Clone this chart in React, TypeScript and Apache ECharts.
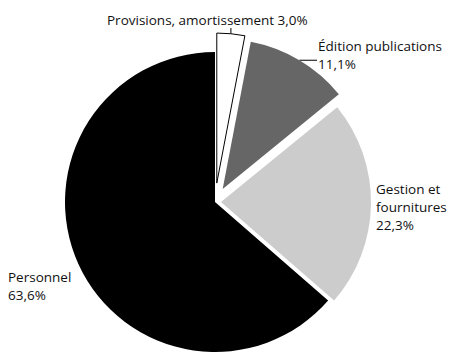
import React, { useEffect, useRef } from "react";
import * as echarts from "echarts";

const categories = ["Provisions, amortissement", "Édition publications", "Gestion et fournitures", "Personnel"];
const labelNames = ["Provisions, amortissement", "Édition publications", "Gestion et\nfournitures", "Personnel"];
const values = [3.0, 11.1, 22.3, 63.6];
const colors = ["#ffffff", "#666666", "#cccccc", "#000000"];
const offsets = [19, 15, 6, 0];
const labelSep = [" ", "\n", "\n", "\n"];

const fmt = (v: number) => v.toFixed(1).replace(".", ",") + "%";

const CX = 215;
const CY = 202;
const R = 150;
// label anchor (left, top of first line)
const labelPos = [
  [107, 11],
  [318, 37],
  [376, 180],
  [8, 268],
];

export default function App() {
  const ref = useRef<HTMLDivElement>(null);
  useEffect(() => {
    const chart = echarts.init(ref.current!, null, { renderer: "svg" });
    const total = values.reduce((a, b) => a + b, 0);
    // mid-angle edge points of each slice (clockwise from top)
    let acc = 0;
    const edge = values.map((v, i) => {
      const mid = ((acc + v / 2) / total) * 2 * Math.PI;
      acc += v;
      const d = R + offsets[i];
      return [CX + d * Math.sin(mid), CY - d * Math.cos(mid)];
    });

    const series = categories.map((_, k) => ({
      type: "pie",
      silent: true,
      animation: false,
      center: [CX, CY],
      radius: [0, R],
      startAngle: 90,
      clockwise: true,
      selectedMode: "single",
      selectedOffset: offsets[k],
      emphasis: { disabled: true },
      label: { show: false },
      labelLine: { show: false },
      data: values.map((v, i) => ({
        name: categories[i],
        value: v,
        selected: i === k && offsets[k] > 0,
        itemStyle:
          i === k
            ? {
                color: colors[i],
                borderColor: i === 0 ? "#000" : "transparent",
                borderWidth: i === 0 ? 1 : 0,
              }
            : { color: "transparent", borderWidth: 0 },
      })),
    }));

    const texts = values.map((v, i) => ({
      type: "text",
      left: labelPos[i][0],
      top: labelPos[i][1],
      silent: true,
      style: {
        text: labelNames[i] + labelSep[i] + fmt(v),
        fontFamily: "Open Sans",
        fontSize: 13.5,
        lineHeight: 18,
        fill: "#111",
      },
    }));

    const lines = [
      {
        type: "line",
        silent: true,
        shape: { x1: edge[0][0], y1: edge[0][1], x2: edge[0][0], y2: 28 },
        style: { stroke: "#000", lineWidth: 1 },
      },
      {
        type: "line",
        silent: true,
        shape: { x1: edge[1][0], y1: edge[1][1], x2: 317, y2: edge[1][1] },
        style: { stroke: "#000", lineWidth: 1 },
      },
    ];

    chart.setOption({
      animation: false,
      backgroundColor: "#ffffff",
      series,
      graphic: [...lines, ...texts],
    });
    return () => chart.dispose();
  }, []);
  return (
    <div
      ref={ref}
      style={{ position: "fixed", left: 0, top: 0, width: 449, height: 352 }}
    />
  );
}
